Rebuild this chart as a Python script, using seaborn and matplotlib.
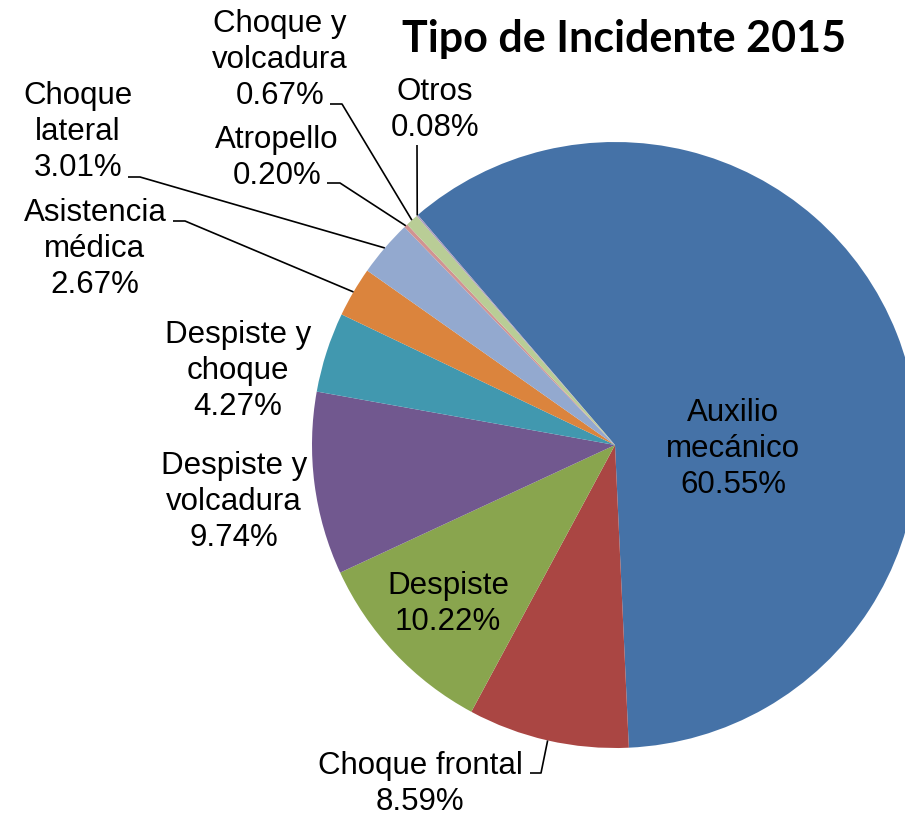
import numpy as np
import matplotlib.pyplot as plt
import seaborn as sns

# Datos del gráfico
categorias = ['Auxilio\nmecánico', 'Choque frontal', 'Despiste', 'Despiste y\nvolcadura',
              'Despiste y\nchoque', 'Asistencia\nmédica', 'Choque\nlateral', 'Atropello',
              'Choque y\nvolcadura', 'Otros']
porcentajes = [60.55, 8.59, 10.22, 9.74, 4.27, 2.67, 3.01, 0.20, 0.67, 0.08]
colores = ['#4572A7', '#AA4643', '#89A54E', '#71588F', '#4198AF',
           '#DB843D', '#93A9CF', '#D19392', '#B9CD96', '#A99BBD']

# Geometría en píxeles de la imagen (centro y radio del pastel)
W, H = 905, 816
CX, CY, R = 615, 445, 303
INICIO = 130.6


def px(x, y):
    """Pasa coordenadas de píxel a coordenadas de datos del eje."""
    return (x - CX) / R, (CY - y) / R


# Posición de cada etiqueta (centro del texto) y tramo inicial de la guía
etiquetas = {
    0: dict(pos=(733, 449)),
    1: dict(pos=(420, 784), guia=[(530, 773), (541, 773)]),
    2: dict(pos=(448, 604)),
    3: dict(pos=(234, 502)),
    4: dict(pos=(238, 371)),
    5: dict(pos=(95, 249), guia=[(173, 221), (185, 221)]),
    6: dict(pos=(78, 132), guia=[(128, 177), (140, 177)]),
    7: dict(pos=(277, 158), guia=[(327, 183), (340, 183)]),
    8: dict(pos=(280, 60), guia=[(330, 104), (342, 104)]),
    9: dict(pos=(435, 110), guia=[(417, 145)]),
}

sns.set_theme(style="white")
plt.rcParams['font.family'] = ['Liberation Sans', 'DejaVu Sans']

fig = plt.figure(figsize=(W / 100, H / 100), dpi=100)
ax = fig.add_axes([0, 0, 1, 1])

cunas, _ = ax.pie(porcentajes, colors=colores, startangle=INICIO, counterclock=False,
                  radius=1, center=(0, 0), wedgeprops=dict(linewidth=0))

ax.set_xlim(-CX / R, (W - CX) / R)
ax.set_ylim(-(H - CY) / R, CY / R)
ax.set_aspect('auto')
ax.axis('off')

for i, cuna in enumerate(cunas):
    info = etiquetas[i]
    texto = f'{categorias[i]}\n{porcentajes[i]:.2f}%'
    ax.text(*px(*info['pos']), texto, ha='center', va='center', fontsize=22.5,
            color='black', linespacing=1.25)
    if 'guia' in info:
        ang = np.deg2rad((cuna.theta1 + cuna.theta2) / 2)
        xs = [px(*p)[0] for p in info['guia']] + [np.cos(ang)]
        ys = [px(*p)[1] for p in info['guia']] + [np.sin(ang)]
        ax.plot(xs, ys, color='black', linewidth=1.2, solid_capstyle='butt')

ax.text(*px(624, 52), 'Tipo de Incidente 2015', ha='center', va='baseline',
        fontsize=31, fontweight='bold', family=['Lato', 'DejaVu Sans'], color='black')

fig.savefig('out.png', dpi=100)
